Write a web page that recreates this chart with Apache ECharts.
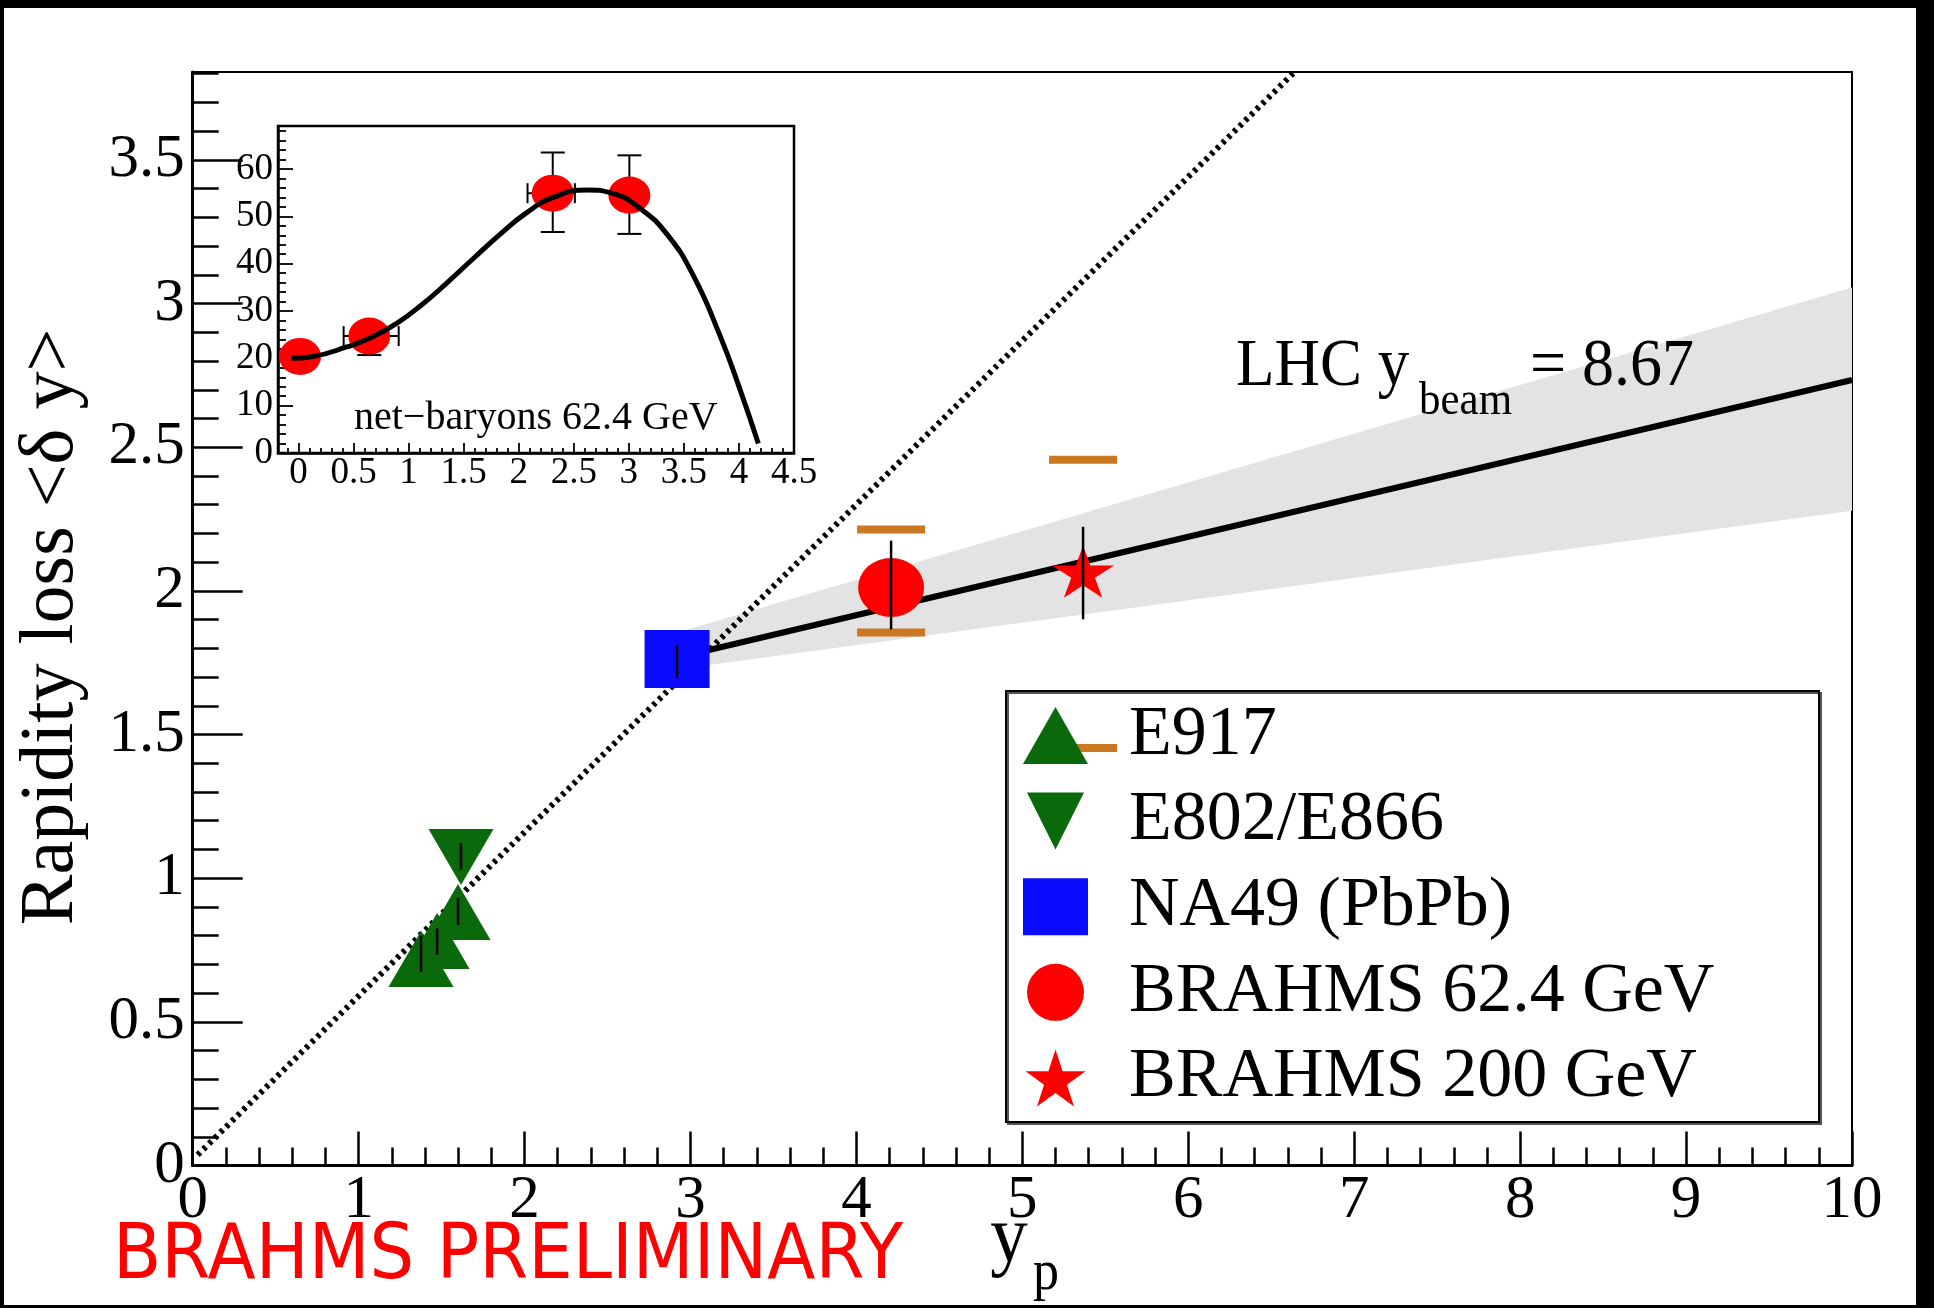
<!DOCTYPE html>
<html><head><meta charset="utf-8">
<script src="https://cdn.jsdelivr.net/npm/echarts@6/dist/echarts.min.js"></script>
<style>html,body{margin:0;padding:0;background:#fff}#c{width:1934px;height:1308px}</style>
</head><body><div id="c"></div>
<script>
// ---------------- data ----------------
const e917 = [[1.376, 0.719], [1.473, 0.781], [1.599, 0.882]];
const e917Err = [[1.376, 0.674, 0.800], [1.473, 0.733, 0.825], [1.599, 0.837, 0.931]];
const e802 = [[1.617, 1.074]];
const e802Err = [[1.617, 1.029, 1.122]];
const na49 = [[2.919, 1.763]];
const na49Err = [[2.919, 1.697, 1.812]];
const brahms62 = [[4.209, 2.012]];
const brahms62Err = [[4.209, 1.866, 2.175]];
const brahms62Sys = [[4.209, 1.855], [4.209, 2.214]];
const brahms200 = [[5.366, 2.067]];
const brahms200Err = [[5.366, 1.901, 2.223]];
const brahms200Sys = [[5.366, 1.453], [5.366, 2.456]];
const linearScaling = [[0.03, 0.037], [6.64, 3.806]];
const extrapolation = [[2.92, 1.768], [10, 2.734]];
const bandUpper = [[2.92, 1.855], [10, 3.056]];
const bandLower = [[2.92, 1.727], [10, 2.279]];

const insetPoints = [[0.014, 20.4], [0.643, 24.7], [2.309, 54.9], [3.005, 54.5]];
const insetErrX = [[0.643, 24.7, 0.41, 0.91], [2.309, 54.9, 2.08, 2.51]];
const insetErrY = [[0.643, 20.7, 27.4], [2.309, 46.7, 63.5], [3.005, 46.3, 62.9]];
const insetFit = [[-0.062, 20.0], [0.134, 20.4], [0.438, 22.4], [0.649, 24.3], [0.892, 27.4],
  [1.134, 31.6], [1.346, 35.9], [1.588, 41.1], [1.830, 46.2], [2.073, 50.8], [2.314, 54.0],
  [2.618, 55.6], [2.859, 54.8], [3.102, 51.7], [3.344, 46.3], [3.586, 37.5], [3.828, 24.8],
  [4.01, 13.4], [4.176, 2.0]];

const legendNames = ['E917', 'E802/E866', 'NA49 (PbPb)', 'BRAHMS 62.4 GeV', 'BRAHMS 200 GeV'];

// tick labels
const xMajor = [0, 1, 2, 3, 4, 5, 6, 7, 8, 9, 10];
const yMajor = [0, 0.5, 1, 1.5, 2, 2.5, 3, 3.5];
const insetXMajor = [0, 0.5, 1, 1.5, 2, 2.5, 3, 3.5, 4, 4.5];
const insetYMajor = [0, 10, 20, 30, 40, 50, 60];

function minorTicks(lo, n, step, majors) {
  const out = [];
  for (let i = 0; i <= n; i++) {
    const v = Math.round((lo + i * step) * 1000) / 1000;
    if (!majors.some(m => Math.abs(m - v) < 1e-6)) out.push(v);
  }
  return out;
}
const xMinor = minorTicks(0, 50, 0.2, xMajor);
const yMinor = minorTicks(0, 38, 0.1, yMajor);
const insetXMinor = minorTicks(-0.1, 46, 0.1, insetXMajor);
const insetYMinor = minorTicks(2, 33, 2, insetYMajor);

// ---------------- styles ----------------
const SERIF = 'Liberation Serif';
const GREEN = '#0a690a', BLUE = '#0a0aff', RED = '#ff0000', ORANGE = '#cc7722';
const STAR = 'path://M0,-1L0.2245,-0.309L0.9511,-0.309L0.3633,0.118L0.5878,0.809L0,0.382L-0.5878,0.809L-0.3633,0.118L-0.9511,-0.309L-0.2245,-0.309Z';
const ELLIPSE = 'path://M0,1A1,1,0,1,1,2,1A1,1,0,1,1,0,1Z';
const TRI_DOWN = 'path://M0,0L2,0L1,2Z';

function valueAxis(grid, min, max, pos, major, minor, len, showLine, labelCfg) {
  return {
    type: 'value', gridIndex: grid, min: min, max: max, position: pos,
    axisLine: { show: showLine, onZero: false, lineStyle: { color: '#000', width: grid === 0 ? 3 : 2.5 } },
    axisTick: { show: true, inside: true, length: len, customValues: major || minor,
      lineStyle: { color: '#000', width: grid === 0 ? 2.5 : 1.8 } },
    axisLabel: labelCfg ? Object.assign({ show: true, customValues: major, color: '#000', fontFamily: SERIF }, labelCfg) : { show: false },
    splitLine: { show: false }, minorTick: { show: false }
  };
}

const chart = echarts.init(document.getElementById('c'), null, { renderer: 'canvas' });

const errRender = (params, api) => {
  const a = api.coord([api.value(0), api.value(1)]);
  const b = api.coord([api.value(0), api.value(2)]);
  return { type: 'line', shape: { x1: a[0], y1: a[1], x2: b[0], y2: b[1] }, style: { stroke: '#000', lineWidth: 2.5 } };
};

const option = {
  backgroundColor: '#fff',
  animation: false,
  grid: [
    { left: 192.7, top: 72, width: 1659.3, height: 1093.5, show: true, borderColor: '#000', borderWidth: 2, backgroundColor: 'transparent', outerBoundsMode: 'none', containLabel: false },
    { left: 278, top: 126, width: 516, height: 327, show: true, borderColor: '#000', borderWidth: 2.5, backgroundColor: 'transparent', outerBoundsMode: 'none', containLabel: false }
  ],
  xAxis: [
    valueAxis(0, 0, 10, 'bottom', xMajor, null, 34, true, { fontSize: 61, margin: 5 }),
    valueAxis(0, 0, 10, 'bottom', null, xMinor, 18, false, null),
    valueAxis(1, -0.186, 4.5, 'bottom', insetXMajor, null, 10, true, { fontSize: 37, margin: 2 }),
    valueAxis(1, -0.186, 4.5, 'bottom', null, insetXMinor, 5, false, null)
  ],
  yAxis: [
    valueAxis(0, 0, 3.806, 'left', yMajor, null, 50, true, { fontSize: 61, margin: 8 }),
    valueAxis(0, 0, 3.806, 'left', null, yMinor, 26, false, null),
    valueAxis(1, 0, 69.1, 'left', insetYMajor, null, 15, true, { fontSize: 37, margin: 5 }),
    valueAxis(1, 0, 69.1, 'left', null, insetYMinor, 8, false, null)
  ],
  legend: {
    data: legendNames, orient: 'vertical', left: 1023, top: 697, padding: 0,
    itemWidth: 65, itemHeight: 57, itemGap: 8.6, selectedMode: false, z: 10,
    textStyle: { fontFamily: SERIF, fontSize: 70, color: '#000', lineHeight: 57, padding: [0, 0, 20, 36] }
  },
  series: [
    { type: 'custom', name: 'band', xAxisIndex: 0, yAxisIndex: 0, z: 1, silent: true, data: [0],
      renderItem: (params, api) => {
        const pts = bandUpper.map(p => api.coord(p)).concat(bandLower.slice().reverse().map(p => api.coord(p)));
        return { type: 'polygon', shape: { points: pts }, style: { fill: '#e3e3e3' } };
      } },
    { type: 'line', name: 'scaling', xAxisIndex: 0, yAxisIndex: 0, z: 2, silent: true, data: linearScaling,
      symbol: 'none', lineStyle: { color: '#000', width: 6, type: [3.5, 4.5], cap: 'butt' } },
    { type: 'line', name: 'extrap', xAxisIndex: 0, yAxisIndex: 0, z: 3, silent: true, data: extrapolation,
      symbol: 'none', lineStyle: { color: '#000', width: 6 } },
    { type: 'custom', name: 'sys', xAxisIndex: 0, yAxisIndex: 0, z: 3, silent: true,
      data: brahms62Sys.concat(brahms200Sys),
      renderItem: (params, api) => {
        const c = api.coord([api.value(0), api.value(1)]);
        return { type: 'rect', shape: { x: c[0] - 34, y: c[1] - 4, width: 68, height: 8 }, style: { fill: ORANGE } };
      } },
    { type: 'scatter', name: 'E917', xAxisIndex: 0, yAxisIndex: 0, z: 4, data: e917,
      symbol: 'triangle', symbolSize: [65, 56], itemStyle: { color: GREEN, opacity: 1 } },
    { type: 'scatter', name: 'E802/E866', xAxisIndex: 0, yAxisIndex: 0, z: 4, data: e802,
      symbol: TRI_DOWN, symbolSize: [65, 56], itemStyle: { color: GREEN, opacity: 1 } },
    { type: 'scatter', name: 'NA49 (PbPb)', xAxisIndex: 0, yAxisIndex: 0, z: 4, data: na49,
      symbol: 'rect', symbolSize: [65, 58], itemStyle: { color: BLUE, opacity: 1 } },
    { type: 'scatter', name: 'BRAHMS 62.4 GeV', xAxisIndex: 0, yAxisIndex: 0, z: 4, data: brahms62,
      symbol: ELLIPSE, symbolSize: [66, 59], itemStyle: { color: RED, opacity: 1 } },
    { type: 'scatter', name: 'BRAHMS 200 GeV', xAxisIndex: 0, yAxisIndex: 0, z: 4, data: brahms200,
      symbol: STAR, symbolSize: [62, 52], itemStyle: { color: RED, opacity: 1 } },
    { type: 'custom', name: 'err', xAxisIndex: 0, yAxisIndex: 0, z: 5, silent: true,
      data: e917Err.concat(e802Err, na49Err, brahms62Err, brahms200Err), renderItem: errRender },

    // inset
    { type: 'custom', name: 'insetErr', xAxisIndex: 2, yAxisIndex: 2, z: 2, silent: true,
      data: insetErrY.map(d => [d[0], d[1], d[2], 0]).concat(insetErrX.map(d => [d[0], d[1], d[2], d[3], 1])),
      renderItem: (params, api) => {
        const d = params.dataIndex < insetErrY.length ? insetErrY[params.dataIndex] : insetErrX[params.dataIndex - insetErrY.length];
        const st = { stroke: '#000', lineWidth: 2 };
        if (params.dataIndex < insetErrY.length) {
          const a = api.coord([d[0], d[1]]), b = api.coord([d[0], d[2]]);
          return { type: 'group', children: [
            { type: 'line', shape: { x1: a[0], y1: a[1], x2: b[0], y2: b[1] }, style: st },
            { type: 'line', shape: { x1: a[0] - 12, y1: a[1], x2: a[0] + 12, y2: a[1] }, style: st },
            { type: 'line', shape: { x1: b[0] - 12, y1: b[1], x2: b[0] + 12, y2: b[1] }, style: st }
          ] };
        }
        const a = api.coord([d[2], d[1]]), b = api.coord([d[3], d[1]]);
        return { type: 'group', children: [
          { type: 'line', shape: { x1: a[0], y1: a[1], x2: b[0], y2: b[1] }, style: st },
          { type: 'line', shape: { x1: a[0], y1: a[1] - 10, x2: a[0], y2: a[1] + 10 }, style: st },
          { type: 'line', shape: { x1: b[0], y1: b[1] - 10, x2: b[0], y2: b[1] + 10 }, style: st }
        ] };
      } },
    { type: 'scatter', name: 'insetPts', xAxisIndex: 2, yAxisIndex: 2, z: 3, silent: true, data: insetPoints,
      symbol: ELLIPSE, symbolSize: [42, 37], itemStyle: { color: RED, opacity: 1 } },
    { type: 'line', name: 'insetFit', xAxisIndex: 2, yAxisIndex: 2, z: 4, silent: true, data: insetFit,
      symbol: 'none', smooth: 0.5, lineStyle: { color: '#000', width: 5 } }
  ],
  graphic: [
    { type: 'rect', shape: { x: 0, y: 0, width: 1934, height: 8 }, style: { fill: '#000' }, z: 20 },
    { type: 'rect', shape: { x: 0, y: 0, width: 4, height: 1308 }, style: { fill: '#000' }, z: 20 },
    { type: 'rect', shape: { x: 1916, y: 0, width: 18, height: 1308 }, style: { fill: '#000' }, z: 20 },
    { type: 'rect', shape: { x: 0, y: 1305, width: 1934, height: 3 }, style: { fill: '#000' }, z: 20 },
    // legend frame
    { type: 'rect', shape: { x: 1008, y: 693, width: 813, height: 431 }, style: { fill: 'none', stroke: '#555', lineWidth: 2 }, z: 9 },
    { type: 'rect', shape: { x: 1006, y: 691, width: 813, height: 431 }, style: { fill: 'none', stroke: '#000', lineWidth: 2 }, z: 9 },
    // axis titles
    { type: 'text', x: 52, y: 627, rotation: Math.PI / 2, z: 10,
      style: { text: 'Rapidity loss <δ y>', fontFamily: SERIF, fontSize: 76, fill: '#000', align: 'center', verticalAlign: 'middle' } },
    { type: 'text', x: 1009, y: 1240, z: 10, scaleY: 1.08,
      style: { text: 'y', fontFamily: SERIF, fontSize: 75, fill: '#000', align: 'center', verticalAlign: 'middle' } },
    { type: 'text', x: 1033, y: 1274, z: 10, scaleY: 1.08,
      style: { text: 'p', fontFamily: SERIF, fontSize: 52, fill: '#000', align: 'left', verticalAlign: 'middle' } },
    { type: 'text', x: 113, y: 1258, z: 10, scaleY: 1.08,
      style: { text: 'BRAHMS PRELIMINARY', fontFamily: 'DejaVu Sans', fontSize: 70.5, fill: '#ff0000', align: 'left', verticalAlign: 'middle' } },
    // LHC annotation
    { type: 'text', x: 1236, y: 367, z: 10, scaleY: 1.06,
      style: { text: 'LHC y', fontFamily: SERIF, fontSize: 63, fill: '#000', align: 'left', verticalAlign: 'middle' } },
    { type: 'text', x: 1419, y: 402, z: 10, scaleY: 1.06,
      style: { text: 'beam', fontFamily: SERIF, fontSize: 43, fill: '#000', align: 'left', verticalAlign: 'middle' } },
    { type: 'text', x: 1530, y: 367, z: 10, scaleY: 1.06,
      style: { text: '= 8.67', fontFamily: SERIF, fontSize: 64, fill: '#000', align: 'left', verticalAlign: 'middle' } },
    // inset label
    { type: 'text', x: 354, y: 418, z: 10,
      style: { text: 'net\u2212baryons 62.4 GeV', fontFamily: SERIF, fontSize: 40, fill: '#000', align: 'left', verticalAlign: 'middle' } }
  ]
};
chart.setOption(option);
</script>
</body></html>
